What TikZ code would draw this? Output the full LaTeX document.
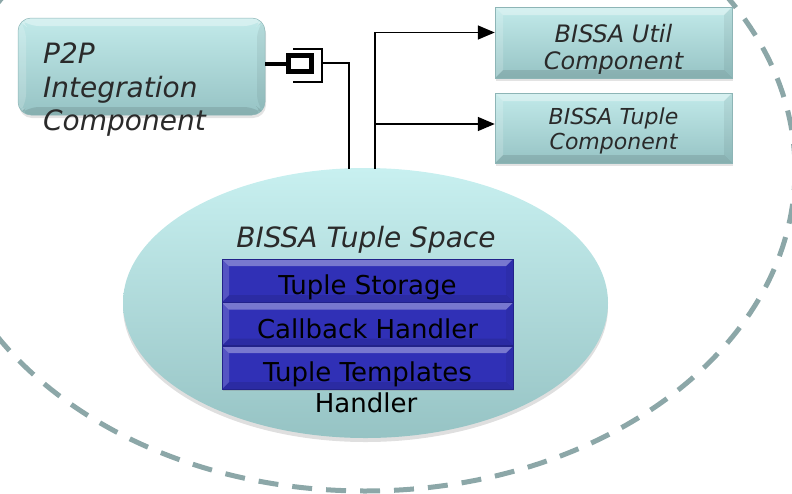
\documentclass[tikz,border=0pt]{standalone}
\usepackage{fontspec}
\setmainfont{DejaVu Sans}
\usetikzlibrary{shapes.geometric,arrows.meta,shadows}

\definecolor{tealtop}{HTML}{C2EAEA}
\definecolor{tealbot}{HTML}{96C3C4}
\definecolor{tealedge}{HTML}{8DB5B6}
\definecolor{spacetop}{HTML}{C8F0F0}
\definecolor{spacebot}{HTML}{96C3C4}
\definecolor{barblue}{HTML}{3030B6}
\definecolor{bardark}{HTML}{22228A}
\definecolor{dashgray}{HTML}{8CA7A8}
\definecolor{labelgray}{HTML}{2A2A2A}

\tikzset{
  bevel/.style={path picture={
      \fill[white,opacity=0.35] (path picture bounding box.north west) -- (path picture bounding box.north east)
        -- ([xshift=-#1,yshift=-#1]path picture bounding box.north east) -- ([xshift=#1,yshift=-#1]path picture bounding box.north west) -- cycle;
      \fill[black,opacity=0.10] (path picture bounding box.south west) -- (path picture bounding box.south east)
        -- ([xshift=-#1,yshift=#1]path picture bounding box.south east) -- ([xshift=#1,yshift=#1]path picture bounding box.south west) -- cycle;
      \fill[white,opacity=0.18] (path picture bounding box.north west) -- (path picture bounding box.south west)
        -- ([xshift=#1,yshift=#1]path picture bounding box.south west) -- ([xshift=#1,yshift=-#1]path picture bounding box.north west) -- cycle;
      \fill[black,opacity=0.06] (path picture bounding box.north east) -- (path picture bounding box.south east)
        -- ([xshift=-#1,yshift=#1]path picture bounding box.south east) -- ([xshift=-#1,yshift=-#1]path picture bounding box.north east) -- cycle;
  }},
  compbox/.style={rectangle, draw=tealedge, line width=0.5pt, top color=tealtop, bottom color=tealbot,
    inner sep=0pt, bevel=8pt, drop shadow={opacity=0.22, shadow xshift=1pt, shadow yshift=-3pt}},
  complabel/.style={align=center, text=labelgray, inner sep=0pt},
  barbox/.style={rectangle, fill=barblue, draw=bardark, line width=0.5pt, minimum width=291pt, minimum height=43pt,
    inner sep=0pt, bevel=7pt, font=\fontsize{26}{30}\selectfont, text=black, text height=28pt, text depth=0pt,
    drop shadow={opacity=0.3, shadow xshift=1pt, shadow yshift=-2pt}},
  wire/.style={draw=black, line width=1.6pt},
  boundary/.style={draw=dashgray, line width=5pt, dash pattern=on 20pt off 14pt},
}

\begin{document}
\begin{tikzpicture}[x=1pt,y=-1pt]
\useasboundingbox (0,0) rectangle (792,493);

% outer boundary
\draw[boundary] (365,170) ellipse [x radius=430, y radius=321];

% tuple space
\node[ellipse, minimum width=485pt, minimum height=270pt, top color=spacetop, bottom color=spacebot,
  drop shadow={opacity=0.25, shadow xshift=0pt, shadow yshift=-4pt}] (space) at (365.5,303) {};
\node[complabel, anchor=base, font=\fontsize{28}{34}\selectfont\itshape] (spacelabel) at (366,247) {BISSA Tuple Space};
\node[barbox] (storage) at (367.5,280.5) {Tuple Storage};
\node[barbox] (callback) at (367.5,324) {Callback Handler};
\node[barbox] (templates) at (367.5,367.5) {Tuple Templates};
\node[inner sep=0pt, anchor=base, font=\fontsize{26}{30}\selectfont] (handler) at (366,412) {Handler};

% components
\node[compbox, rounded corners=13pt, minimum width=247pt, minimum height=97pt] (p2p) at (141.5,66.5) {};
\node[complabel, align=left, anchor=north west, font=\fontsize{28}{33.5}\selectfont\itshape] (p2plabel) at (43,43)
  {P2P\\Integration\\Component};
\node[compbox, minimum width=237pt, minimum height=71pt] (util) at (613.5,42.5) {};
\node[complabel, font=\fontsize{24}{27}\selectfont\itshape] (utillabel) at (613.5,49) {BISSA Util\\Component};
\node[compbox, minimum width=237pt, minimum height=70pt] (tuple) at (613.5,128) {};
\node[complabel, font=\fontsize{22}{24.5}\selectfont\itshape] (tuplelabel) at (613.5,131) {BISSA Tuple\\Component};

% port of the p2p component
\node[draw=black, line width=5pt, minimum width=23pt, minimum height=16pt, inner sep=0pt, fill=white] (port) at (300,63.5) {};
\draw[line width=4pt] (p2p.east |- port.west) -- (port.west);
\draw[wire, line width=1.3pt] (293,49) -| (322,82) -- (293,82);

% connectors
\coordinate (sock) at (322,63);
\coordinate (leftin) at (349,168.5);
\coordinate (fork) at (375,168.5);
\draw[wire] (sock) -| (leftin);
\draw[wire, -{Triangle[length=17pt,width=14pt]}] (fork) |- ([yshift=10pt]util.west);
\draw[wire, -{Triangle[length=17pt,width=14pt]}] (fork) |- ([yshift=4pt]tuple.west);
\end{tikzpicture}
\end{document}
